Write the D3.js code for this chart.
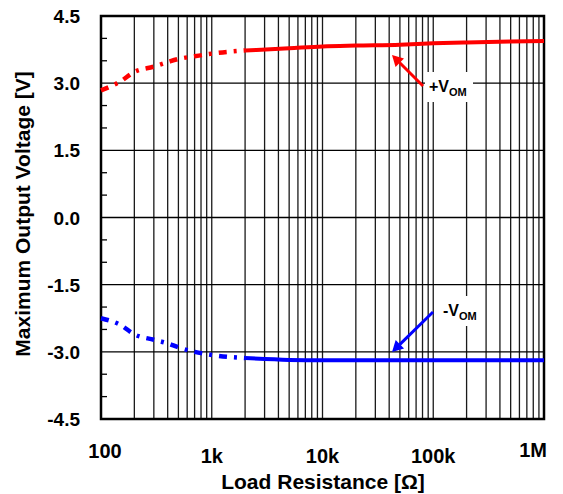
<!DOCTYPE html>
<html><head><meta charset="utf-8">
<script src="https://cdn.jsdelivr.net/npm/d3@7"></script>
<style>body{margin:0;background:#fff}svg{display:block}</style>
</head><body>
<svg id="c" width="563" height="494"></svg>
<script>
const resistances = [100,150,200,300,400,500,700,1000,2000,5000,10000,20000,50000,100000,200000,500000,1000000];
const vomPos = [2.84,3.04,3.25,3.37,3.47,3.54,3.60,3.66,3.73,3.78,3.82,3.84,3.86,3.89,3.91,3.93,3.94];
const vomNeg = [-2.25,-2.40,-2.61,-2.73,-2.81,-2.90,-3.00,-3.07,-3.14,-3.18,-3.19,-3.19,-3.19,-3.19,-3.19,-3.19,-3.19];
const dashedUntil = 2000;
const yTicks = [4.5,3.0,1.5,0.0,-1.5,-3.0,-4.5];
const xTickVals = [100,1000,10000,100000,1000000];
const xTickLabels = ["100","1k","10k","100k","1M"];

const svg = d3.select("#c");
const L=101,R=544,T=16,B=419;
const x = d3.scaleLog().domain([100,1e6]).range([L,R]);
const y = d3.scaleLinear().domain([-4.5,4.5]).range([B,T]);
const font = "'Liberation Sans', Arial, sans-serif";

// vertical grid (1..9 per decade)
const vg = [];
for (let d=100; d<1e6; d*=10) for (let k=1;k<10;k++) vg.push(d*k);
svg.append("g").selectAll("line").data(vg.filter(v=>v>100&&v<1e6)).join("line")
  .attr("x1",d=>x(d)).attr("x2",d=>x(d)).attr("y1",T).attr("y2",B)
  .attr("stroke","#1a1a1a").attr("stroke-width",1.3);
// horizontal grid
svg.append("g").selectAll("line").data(yTicks.filter(v=>v>-4.5&&v<4.5)).join("line")
  .attr("x1",L).attr("x2",R).attr("y1",d=>y(d)).attr("y2",d=>y(d))
  .attr("stroke","#000").attr("stroke-width",1.3);
// minor ticks on left
const minor = d3.range(-4.0,4.5,0.5).filter(v=>Math.abs(v/1.5-Math.round(v/1.5))>1e-6);
svg.append("g").selectAll("line").data(minor).join("line")
  .attr("x1",L).attr("x2",L+6).attr("y1",d=>y(d)).attr("y2",d=>y(d))
  .attr("stroke","#000").attr("stroke-width",1.3);

// label boxes
svg.append("rect").attr("x",425).attr("y",72).attr("width",48).attr("height",30).attr("fill","#fff");
svg.append("rect").attr("x",439).attr("y",296).attr("width",42).attr("height",30).attr("fill","#fff");

// frame
svg.append("rect").attr("x",L).attr("y",T).attr("width",R-L).attr("height",B-T)
  .attr("fill","none").attr("stroke","#000").attr("stroke-width",2.5);

// curves
const line = d3.line().x(d=>x(d[0])).y(d=>y(d[1])).curve(d3.curveMonotoneX);
function drawSeries(vals,color){
  const pts = resistances.map((r,i)=>[r,vals[i]]);
  const dashed = pts.filter(p=>p[0]<=dashedUntil);
  const solid = pts.filter(p=>p[0]>=dashedUntil);
  svg.append("path").attr("d",line(dashed)).attr("fill","none").attr("stroke",color)
    .attr("stroke-width",4.5).attr("stroke-dasharray","8,7,3,7");
  svg.append("path").attr("d",line(solid)).attr("fill","none").attr("stroke",color)
    .attr("stroke-width",4);
}
drawSeries(vomPos,"#ff0000");
drawSeries(vomNeg,"#0000ff");

// arrows
function arrow(x1,y1,x2,y2,color){
  const ang = Math.atan2(y2-y1,x2-x1);
  const hl=11, hw=6;
  const bx = x2-hl*Math.cos(ang), by = y2-hl*Math.sin(ang);
  svg.append("line").attr("x1",x1).attr("y1",y1).attr("x2",bx).attr("y2",by)
    .attr("stroke",color).attr("stroke-width",3);
  const px=-Math.sin(ang)*hw, py=Math.cos(ang)*hw;
  svg.append("path").attr("d",`M${x2},${y2}L${bx+px},${by+py}L${bx-px},${by-py}Z`).attr("fill",color);
}
arrow(423,86,392,55,"#ff0000");
arrow(433,312,392,352,"#0000ff");

function label(tx,ty,sign){
  const t = svg.append("text").attr("x",tx).attr("y",ty).attr("font-family",font)
    .attr("font-weight","bold").attr("font-size",16).attr("fill","#000");
  t.append("tspan").text(sign+"V");
  t.append("tspan").attr("font-size",11).attr("dy",4).text("OM");
}
label(429,92,"+");
label(443,316,"-");

// y tick labels
svg.append("g").selectAll("text").data(yTicks).join("text")
  .attr("x",80).attr("y",d=>y(d)+7).attr("text-anchor","end")
  .attr("font-family",font).attr("font-weight","bold").attr("font-size",19).text(d=>d.toFixed(1));
// x tick labels
const xLabY = [458,463,463,463,457];
svg.append("g").selectAll("text").data(xTickVals).join("text")
  .attr("x",(d,i)=> i===0? 105 : (i===4? 547 : x(d)))
  .attr("y",(d,i)=>xLabY[i])
  .attr("text-anchor",(d,i)=> i===4?"end":"middle")
  .attr("font-family",font).attr("font-weight","bold").attr("font-size",20)
  .text((d,i)=>xTickLabels[i]);

// titles
svg.append("text").attr("x",323).attr("y",489).attr("text-anchor","middle")
  .attr("font-family",font).attr("font-weight","bold").attr("font-size",21).text("Load Resistance [Ω]");
svg.append("text").attr("transform","translate(30,214) rotate(-90)").attr("text-anchor","middle")
  .attr("font-family",font).attr("font-weight","bold").attr("font-size",21).text("Maximum Output Voltage [V]");
</script>
</body></html>
